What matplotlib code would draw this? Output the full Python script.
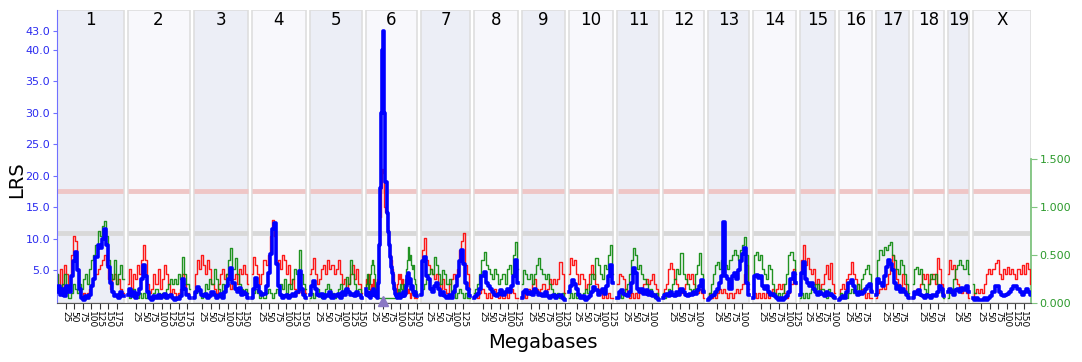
import numpy as np
import matplotlib
matplotlib.use("Agg")
import matplotlib.pyplot as plt
import matplotlib.transforms as mtransforms
from matplotlib.patches import Rectangle

NA = np.nan

# chromosomes and lengths (Mb)
CHROMS = ["1", "2", "3", "4", "5", "6", "7", "8", "9", "10",
          "11", "12", "13", "14", "15", "16", "17", "18", "19", "X"]
CHROM_LEN = [195, 182, 160, 157, 152, 150, 145, 129, 125, 131,
             122, 120, 120, 125, 104, 98, 95, 91, 61, 171]

SUGGESTIVE = 10.9
SIGNIFICANT = 17.6
LRS_TICKS = [5, 10, 15, 20, 25, 30, 35, 40, 43]
ADD_TICKS = [0.0, 0.5, 1.0, 1.5]
MARKER_CHR = "6"
MARKER_MB = 52

# LRS (blue), evenly spaced along each chromosome
LRS_VALUES = [
    [1.5, 2.5, 1.0, 2.0, 0.8, 2.5, 1.5, 4.0, 6.5, 7.8, 5.0, 2.0, 0.5, 0.3, 0.8, 0.5, 1.0,
     2.5, 3.5, 7.0, 9.0, 8.5, 10.0, 11.5, 9.0, 5.5, 3.0, 1.5, 0.8, 1.0, 0.5, 1.5, 0.8],
    [1.0, 2.0, 0.8, 1.5, 0.5, 1.2, 2.0, 3.5, 5.8, 4.0, 1.5, 0.5, 0.3, 0.8, 0.5, 1.0,
     0.6, 0.8, 1.2, 0.5, 0.8, 1.0, 0.5, 0.3, 0.5, 0.4, 0.8, 3.5, 2.0, 1.0, 0.5],
    [0.5, 1.5, 2.3, 1.8, 1.0, 0.8, 1.2, 0.6, 0.8, 1.5, 1.0, 0.5, 0.8, 1.2, 0.6, 1.5,
     2.5, 3.5, 5.3, 3.0, 2.0, 1.5, 2.2, 1.0, 1.5, 1.2, 0.5],
    [0.5, 2.0, 3.8, 2.5, 1.5, 1.0, 1.2, 2.5, 4.5, 7.5, 11.5, 12.5, 6.0, 2.5, 1.0, 0.5,
     0.8, 1.0, 0.5, 0.8, 1.2, 0.8, 1.5, 4.8, 2.0, 1.0, 0.5],
    [1.0, 2.5, 3.2, 2.0, 1.0, 0.8, 1.2, 0.5, 1.0, 0.8, 1.5, 0.6, 1.0, 0.8, 1.2, 0.5,
     1.5, 1.0, 2.0, 1.5, 1.0, 1.2, 0.8, 1.5, 1.0, 0.5],
    [2.0, 1.0, 1.5, 0.8, 1.2, 0.5, 1.5, 1.0, 2.0, 1.5, 0.8, 1.2, 0.5, 3.0, 9.0, 18.0,
     30.0, 40.0, 43.0, 30.0, 19.0, 14.0, 11.0, 9.0, 7.0, 5.5, 4.5, 3.0, 2.0, 1.2, 0.8,
     0.5, 0.8, 1.2, 0.6, 1.0, 0.8, 1.5, 0.8, 1.2, 2.5, 4.0, 4.5, 3.0, 3.5, 2.0, 2.5,
     1.5, 1.0, 1.5, 0.8],
    [1.0, 6.5, 7.0, 4.0, 3.5, 2.0, 1.5, 2.5, 3.0, 2.0, 1.0, 1.5, 0.8, 0.5, 1.0, 0.5,
     1.5, 2.5, 4.0, 6.5, 8.2, 6.0, 3.0, 2.0, 0.8],
    [0.5, 0.8, 1.2, 2.0, 4.0, 4.7, 3.0, 2.5, 2.0, 1.5, 1.0, 0.8, 1.2, 1.8, 1.0, 1.5,
     2.0, 1.5, 2.5, 4.0, 6.6, 3.0],
    [0.5, 1.5, 1.8, 1.2, 1.5, 1.0, 2.0, 1.5, 1.0, 1.2, 0.8, 1.5, 0.8, 0.5, 0.8, 1.0,
     0.6, 0.8, 1.0, 0.5, 0.3],
    [1.5, 2.5, 3.4, 2.8, 2.0, 1.0, 0.5, 0.8, 0.3, 0.5, 0.8, 1.5, 2.3, 1.8, 1.0, 1.5,
     2.0, 1.2, 2.5, 4.0, 5.8, 3.0],
    [0.5, 1.5, 1.8, 1.2, 1.0, 0.8, 1.5, 3.0, 5.3, 4.5, 2.0, 1.5, 2.0, 1.2, 1.8, 1.0,
     1.5, 0.8, 1.0, 0.5, 0.3],
    [0.5, 1.0, 1.2, 0.8, 1.5, 1.0, 0.8, 1.5, 1.0, 2.0, 1.5, 1.0, 0.8, 1.2, 1.0, 1.5,
     1.2, 1.8, 2.5, 3.4, 1.5],
    [0.3, 0.5, 0.8, 1.0, 1.5, 2.0, 3.0, 4.0, 12.6, 4.0, 3.5, 2.0, 4.0, 4.5, 3.5, 5.0,
     6.5, 7.5, 8.5, 3.0, 1.0],
    [0.5, 4.0, 4.2, 3.8, 4.0, 2.5, 2.0, 2.5, 1.5, 1.0, 1.2, 0.8, 0.5, 0.3, 0.5, 0.3,
     0.5, 0.8, 1.5, 3.5, 4.5, 3.0],
    [1.0, 4.5, 6.3, 3.5, 3.0, 2.5, 3.0, 2.0, 1.5, 1.0, 1.5, 1.2, 0.8, 1.5, 1.0, 1.2, 0.8, 0.5],
    [0.3, 0.5, 0.8, 0.5, 1.5, 3.0, 3.4, 2.5, 1.5, 1.0, 1.5, 1.2, 1.5, 2.0, 2.5, 2.8, 1.5],
    [1.0, 3.5, 3.0, 2.5, 4.0, 5.5, 6.6, 6.0, 5.0, 3.0, 2.0, 2.5, 1.5, 2.0, 1.5, 1.0, 0.5],
    [0.5, 1.5, 1.2, 1.8, 1.0, 0.8, 0.5, 1.0, 0.8, 0.5, 1.0, 0.8, 1.5, 2.5, 2.0, 0.8],
    [1.5, 2.0, 1.5, 1.0, 1.8, 2.0, 1.5, 2.2, 1.8, 2.5, 1.5],
    [0.5, 0.3, 0.5, 0.3, 0.2, 0.3, 0.5, 0.3, 0.5, 0.8, 1.5, 2.5, 2.5, 1.5, 1.0, 0.8,
     1.0, 1.2, 1.5, 2.0, 2.5, 2.5, 2.0, 1.5, 1.0, 1.5, 2.0, 1.5, 1.0],
]

# additive effect, red trace (right axis)
ADD_RED = [
    [0.3, 0.15, 0.35, 0.1, 0.4, 0.3, 0.2, 0.5, 0.7, 0.65, 0.35, 0.15, 0.05, 0.1, 0.05, 0.1,
     0.15, 0.2, 0.25, 0.3, 0.35, 0.4, 0.45, 0.5, 0.4, 0.25, 0.15, 0.25, 0.3, 0.2, 0.25, 0.15, 0.1],
    [0.2, 0.35, 0.15, 0.3, 0.25, 0.4, 0.3, 0.45, 0.6, 0.45, 0.2, 0.1, 0.15, 0.3, 0.2, 0.35,
     0.15, 0.25, 0.4, 0.3, 0.2, 0.1, 0.15, 0.1, 0.05, 0.1, 0.15, 0.3, 0.2, 0.1, 0.05],
    [0.1, 0.3, 0.45, 0.35, 0.5, 0.4, 0.3, 0.45, 0.35, 0.2, 0.15, 0.1, 0.2, 0.3, 0.35, 0.25,
     0.3, 0.2, 0.15, 0.25, 0.3, 0.2, 0.35, 0.3, 0.4, 0.3, 0.2],
    [0.3, 0.48, 0.4, 0.3, 0.2, 0.3, 0.45, 0.4, 0.5, 0.7, 0.86, 0.7, 0.4, 0.45, 0.35, 0.5,
     0.45, 0.3, 0.4, 0.2, 0.25, 0.15, 0.1, 0.2, 0.1, 0.15, 0.1],
    [0.3, 0.35, 0.47, 0.3, 0.2, 0.25, 0.35, 0.4, 0.3, 0.45, 0.35, 0.4, 0.3, 0.35, 0.45, 0.3,
     0.2, 0.25, 0.15, 0.2, 0.3, 0.4, 0.25, 0.35, 0.2, 0.1],
    [0.15, 0.25, 0.2, 0.3, 0.15, 0.1, 0.2, 0.15, 0.25, 0.1, 0.15, 0.2, 0.25, 0.35, 0.6, 0.9,
     1.2, 1.4, 1.35, 1.0, 0.95, 0.8, 0.75, 0.6, 0.5, 0.45, 0.35, 0.3, 0.2, 0.15, 0.1,
     0.2, 0.3, 0.25, 0.3, 0.2, 0.25, 0.15, 0.1, 0.15, 0.2, 0.1, 0.15, 0.1, 0.05, 0.1, 0.15,
     0.1, 0.05, 0.1, 0.05],
    [0.2, 0.55, 0.68, 0.45, 0.4, 0.35, 0.3, 0.25, 0.3, 0.2, 0.15, 0.25, 0.15, 0.1, 0.2, 0.25,
     0.3, 0.25, 0.35, 0.55, 0.65, 0.73, 0.4, 0.3, 0.15],
    [0.05, 0.1, 0.05, 0.1, 0.15, 0.1, 0.05, 0.1, 0.05, 0.1, 0.15, 0.1, 0.05, 0.1, 0.05, 0.1,
     0.05, 0.1, 0.15, 0.1, 0.05, 0.05],
    [0.05, 0.1, 0.05, 0.15, 0.1, 0.2, 0.25, 0.15, 0.1, 0.15, 0.2, 0.1, 0.15, 0.25, 0.2, 0.25,
     0.2, 0.25, 0.43, 0.3, 0.1],
    [0.3, 0.47, 0.4, 0.45, 0.3, 0.2, 0.3, 0.25, 0.15, 0.2, 0.3, 0.4, 0.3, 0.2, 0.15, 0.1,
     0.05, 0.1, 0.05, 0.1, 0.05, 0.05],
    [0.2, 0.3, 0.28, 0.25, 0.15, 0.1, 0.05, 0.1, 0.05, 0.1, 0.05, 0.1, 0.15, 0.2, 0.25, 0.2,
     0.24, 0.3, 0.2, 0.15, 0.05],
    [0.05, 0.15, 0.2, 0.35, 0.42, 0.35, 0.25, 0.2, 0.15, 0.1, 0.15, 0.2, 0.3, 0.25, 0.3, 0.2,
     0.15, 0.1, 0.15, 0.1, 0.05],
    [0.05, 0.1, 0.05, 0.1, 0.05, 0.1, 0.15, 0.1, 0.15, 0.1, 0.05, 0.1, 0.05, 0.1, 0.15, 0.1,
     0.15, 0.2, 0.3, 0.4, 0.15],
    [0.05, 0.1, 0.05, 0.1, 0.05, 0.1, 0.05, 0.1, 0.05, 0.1, 0.15, 0.1, 0.15, 0.2, 0.15, 0.2,
     0.1, 0.05, 0.1, 0.2, 0.35, 0.2],
    [0.2, 0.45, 0.6, 0.4, 0.47, 0.35, 0.3, 0.35, 0.2, 0.25, 0.15, 0.2, 0.3, 0.4, 0.25, 0.42, 0.2, 0.1],
    [0.05, 0.15, 0.2, 0.15, 0.25, 0.3, 0.43, 0.3, 0.25, 0.2, 0.1, 0.15, 0.1, 0.05, 0.1, 0.05, 0.05],
    [0.05, 0.1, 0.15, 0.2, 0.15, 0.2, 0.3, 0.4, 0.5, 0.35, 0.25, 0.2, 0.15, 0.3, 0.2, 0.1, 0.05],
    [0.05, 0.1, 0.15, 0.1, 0.2, 0.3, 0.25, 0.3, 0.2, 0.25, 0.3, 0.2, 0.47, 0.35, 0.2, 0.1],
    [0.3, 0.45, 0.35, 0.4, 0.25, 0.2, 0.15, 0.1, 0.15, 0.1, 0.05],
    [0.05, 0.1, 0.15, 0.1, 0.15, 0.1, 0.2, 0.3, 0.35, 0.3, 0.35, 0.42, 0.45, 0.3, 0.25, 0.35,
     0.3, 0.38, 0.3, 0.35, 0.3, 0.25, 0.35, 0.3, 0.4, 0.3, 0.42, 0.35, 0.2],
]

# additive effect, green trace (right axis)
ADD_GREEN = [
    [0.3, 0.15, 0.1, 0.2, 0.3, 0.1, 0.05, 0.1, 0.2, 0.15, 0.1, 0.2, 0.15, 0.25, 0.3, 0.2,
     0.35, 0.45, 0.5, 0.6, 0.75, 0.7, 0.8, 0.85, 0.7, 0.45, 0.3, 0.25, 0.45, 0.2, 0.3, 0.4, 0.25],
    [0.1, 0.05, 0.1, 0.15, 0.1, 0.05, 0.1, 0.05, 0.1, 0.05, 0.1, 0.05, 0.05, 0.1, 0.15, 0.1,
     0.05, 0.1, 0.05, 0.15, 0.2, 0.25, 0.2, 0.25, 0.2, 0.3, 0.25, 0.48, 0.3, 0.2, 0.15],
    [0.05, 0.1, 0.15, 0.1, 0.05, 0.1, 0.2, 0.15, 0.25, 0.2, 0.35, 0.25, 0.15, 0.1, 0.2, 0.15,
     0.3, 0.45, 0.57, 0.35, 0.47, 0.3, 0.2, 0.15, 0.1, 0.15, 0.1],
    [0.05, 0.1, 0.15, 0.1, 0.05, 0.1, 0.05, 0.1, 0.15, 0.1, 0.05, 0.1, 0.15, 0.1, 0.2, 0.15,
     0.25, 0.1, 0.2, 0.15, 0.25, 0.35, 0.3, 0.55, 0.3, 0.2, 0.15],
    [0.05, 0.1, 0.05, 0.1, 0.15, 0.1, 0.05, 0.1, 0.15, 0.2, 0.15, 0.1, 0.05, 0.1, 0.15, 0.2,
     0.1, 0.15, 0.27, 0.2, 0.45, 0.3, 0.2, 0.1, 0.15, 0.05],
    [0.1, 0.2, 0.3, 0.15, 0.2, 0.3, 0.4, 0.45, 0.4, 0.3, 0.15, 0.1, 0.05, 0.05, 0.05, 0.05,
     0.05, 0.05, 0.05, 0.05, 0.05, 0.05, 0.05, 0.05, 0.05, 0.05, 0.05, 0.05, 0.05, 0.05, 0.05,
     0.1, 0.15, 0.1, 0.2, 0.15, 0.1, 0.2, 0.15, 0.25, 0.35, 0.45, 0.58, 0.45, 0.5, 0.4, 0.35,
     0.4, 0.25, 0.2, 0.1],
    [0.1, 0.15, 0.2, 0.25, 0.3, 0.35, 0.3, 0.48, 0.4, 0.3, 0.2, 0.34, 0.3, 0.2, 0.25, 0.1,
     0.15, 0.05, 0.1, 0.15, 0.1, 0.05, 0.1, 0.05, 0.05],
    [0.1, 0.15, 0.2, 0.3, 0.45, 0.53, 0.4, 0.35, 0.3, 0.25, 0.35, 0.3, 0.2, 0.25, 0.3, 0.2,
     0.35, 0.4, 0.3, 0.5, 0.64, 0.35],
    [0.2, 0.34, 0.3, 0.25, 0.3, 0.2, 0.3, 0.4, 0.47, 0.35, 0.3, 0.25, 0.3, 0.2, 0.15, 0.1,
     0.05, 0.1, 0.05, 0.1, 0.05],
    [0.05, 0.1, 0.05, 0.1, 0.05, 0.1, 0.05, 0.1, 0.15, 0.1, 0.2, 0.3, 0.25, 0.47, 0.4, 0.3,
     0.25, 0.4, 0.35, 0.5, 0.6, 0.3],
    [0.05, 0.1, 0.05, 0.1, 0.15, 0.2, 0.3, 0.45, 0.57, 0.5, 0.35, 0.4, 0.3, 0.25, 0.2, 0.1,
     0.15, 0.1, 0.05, 0.1, 0.05],
    [0.1, 0.05, 0.1, 0.15, 0.1, 0.2, 0.25, 0.35, 0.3, 0.52, 0.3, 0.25, 0.2, 0.15, 0.1, 0.15,
     0.3, 0.4, 0.52, 0.3, 0.15],
    [0.05, 0.1, 0.2, 0.3, 0.4, 0.43, 0.35, 0.45, 0.83, 0.4, 0.35, 0.45, 0.5, 0.55, 0.5, 0.45,
     0.55, 0.6, 0.69, 0.5, 0.2],
    [0.1, 0.5, 0.53, 0.45, 0.5, 0.35, 0.3, 0.25, 0.4, 0.35, 0.2, 0.1, 0.05, 0.1, 0.05, 0.1,
     0.2, 0.3, 0.5, 0.53, 0.45, 0.3],
    [0.05, 0.1, 0.05, 0.1, 0.05, 0.1, 0.15, 0.2, 0.15, 0.2, 0.1, 0.15, 0.1, 0.05, 0.15, 0.1, 0.05, 0.05],
    [0.05, 0.1, 0.05, 0.1, 0.05, 0.1, 0.15, 0.1, 0.15, 0.2, 0.1, 0.25, 0.3, 0.35, 0.4, 0.3, 0.15],
    [0.2, 0.45, 0.55, 0.5, 0.58, 0.55, 0.6, 0.64, 0.5, 0.45, 0.35, 0.3, 0.45, 0.4, 0.3, 0.2, 0.1],
    [0.2, 0.35, 0.38, 0.3, 0.35, 0.2, 0.15, 0.1, 0.2, 0.3, 0.25, 0.3, 0.2, 0.15, 0.1, 0.05],
    [0.05, 0.1, 0.15, 0.25, 0.35, 0.4, 0.45, 0.4, 0.35, 0.45, 0.3],
    [0.2, 0.1, NA, NA, NA, NA, NA, NA, NA, NA, NA, NA, NA, NA, NA, NA,
     NA, NA, NA, NA, NA, NA, NA, NA, NA, NA, NA, NA, NA],
]

GAP = 11.7  # Mb between chromosome panels

offsets = []
pos = 0.0
for length in CHROM_LEN:
    offsets.append(pos)
    pos += length + GAP
total = offsets[-1] + CHROM_LEN[-1]

W, H = 1082, 362
fig = plt.figure(figsize=(W / 100, H / 100), dpi=100)
ax = fig.add_axes([57 / W, 1 - 303 / H, (1031 - 57) / W, (303 - 10) / H])
ax_r = ax.twinx()
ax.set_zorder(ax_r.get_zorder() + 1)
ax.patch.set_visible(False)

ax.set_xlim(0, total)
ax.set_ylim(-0.25, 46.36)
ax_r.set_ylim(0, 3.052)

bg_trans = mtransforms.blended_transform_factory(ax_r.transData, ax_r.transAxes)
thr_trans = mtransforms.blended_transform_factory(ax_r.transData, ax.transData)

xticks, xlabels = [], []
for i, (name, length) in enumerate(zip(CHROMS, CHROM_LEN)):
    x0 = offsets[i]
    bg = "#eceef6" if i % 2 == 0 else "#f8f8fc"
    ax_r.add_patch(Rectangle((x0, 0), length, 1, transform=bg_trans, facecolor=bg,
                             edgecolor="#dedede", lw=1.2, zorder=0))
    ax_r.plot([x0 + 1, x0 + length - 1], [SIGNIFICANT] * 2, transform=thr_trans,
              color="#efc6c6", lw=3.5, solid_capstyle="butt", zorder=1)
    ax_r.plot([x0 + 1, x0 + length - 1], [SUGGESTIVE] * 2, transform=thr_trans,
              color="#d9d9d9", lw=3.5, solid_capstyle="butt", zorder=1)
    ax.text(x0 + length / 2, 44.8, name, ha="center", va="center", fontsize=12)

    red = ADD_RED[i]
    green = ADD_GREEN[i]
    lrs = LRS_VALUES[i]
    ax_r.plot(x0 + np.linspace(0, length, len(red)), red, color="#ff0000",
              lw=1.0, drawstyle="steps-mid", alpha=0.9, zorder=3)
    ax_r.plot(x0 + np.linspace(0, length, len(green)), green, color="#0a880a",
              lw=1.0, drawstyle="steps-mid", alpha=0.9, zorder=3)
    ax.plot(x0 + np.linspace(0, length, len(lrs)), lrs, color="#0000ff",
            lw=2.6, drawstyle="steps-mid", zorder=4)

    for mb in range(25, length + 1, 25):
        xticks.append(x0 + mb)
        xlabels.append(str(mb))

# marker position
mi = CHROMS.index(MARKER_CHR)
ax.plot(offsets[mi] + MARKER_MB, 0, marker="^", color="#8a78c4", ms=7,
        clip_on=False, zorder=6, ls="none")

ax.set_xticks(xticks)
ax.set_xticklabels(xlabels, rotation=270, fontsize=6.5)
ax.tick_params(axis="x", length=4, width=0.8, pad=1.5, color="#333333")

ax.set_yticks(LRS_TICKS)
ax.set_yticklabels([f"{v:.1f}" for v in LRS_TICKS], color="#2b2bf0", fontsize=8)
ax.tick_params(axis="y", length=3, color="#7070ff", pad=2)

ax_r.set_yticks(ADD_TICKS)
ax_r.set_yticklabels([f"{v:.3f}" for v in ADD_TICKS], color="#2c9a2c", fontsize=8)
ax_r.tick_params(axis="y", length=4, color="#7fc47f", pad=2)

for s in ["top", "right"]:
    ax.spines[s].set_visible(False)
for s in ["top", "left", "bottom"]:
    ax_r.spines[s].set_visible(False)
ax.spines["left"].set_color("#7070ff")
ax.spines["bottom"].set_color("#555555")
ax.spines["bottom"].set_bounds(0, total)
ax_r.spines["right"].set_color("#7fc47f")
ax_r.spines["right"].set_linewidth(1.3)
ax_r.spines["right"].set_bounds(0, 1.5)

fig.text(17 / W, 1 - 180 / H, "LRS", rotation=90, ha="center", va="center", fontsize=14)
fig.text(543 / W, 1 - 342 / H, "Megabases", ha="center", va="center", fontsize=14)

fig.savefig("out.png", dpi=100, facecolor="white")
